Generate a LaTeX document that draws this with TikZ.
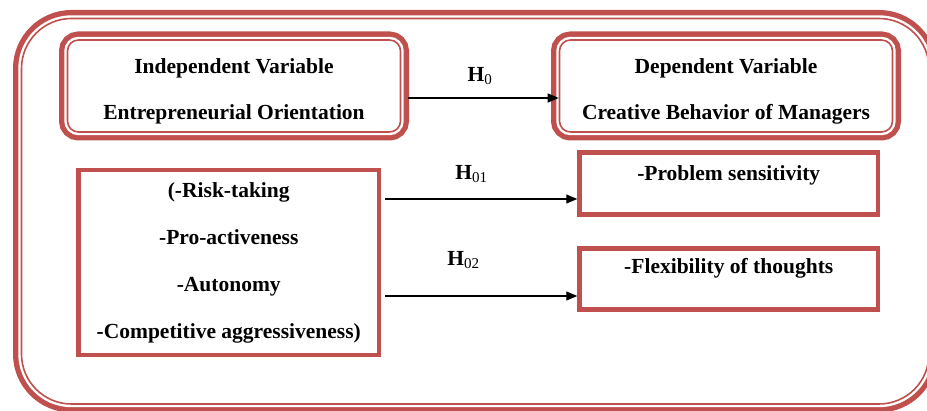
\documentclass[tikz,border=0pt]{standalone}
\usepackage{fontspec}
\setmainfont{Liberation Serif}
\usetikzlibrary{arrows.meta}
\definecolor{boxred}{RGB}{192,80,77}
\tikzset{
	twoline/.style={draw=boxred, fill=white, line width=1.6pt,
		preaction={draw=boxred, line width=17pt},
		preaction={draw=white, line width=6.4pt}},
	varbox/.style={twoline, rounded corners=11pt, inner sep=0pt, align=center,
		minimum width=333pt, minimum height=92pt},
	traitbox/.style={draw=boxred, line width=4.5pt, inner sep=0pt, align=center},
	hyp/.style={-{Triangle[length=11pt,width=9pt]}, line width=1.1pt}
}

\begin{document}
\begin{tikzpicture}[x=1pt, y=-1pt, font=\bfseries\fontsize{21.5}{46}\selectfont]
		\useasboundingbox (0,0) rectangle (927,411);
		% outer frame
		\draw [twoline, rounded corners=50pt] (21.5,18.5) rectangle (929,404);
		\node (ind)[varbox] at(234,86) {\rule{0pt}{25pt}Independent Variable\\Entrepreneurial Orientation};
		\node (dep)[varbox] at(726,86) {\rule{0pt}{25pt}Dependent Variable\\Creative Behavior of Managers};
		\node (traits)[traitbox, minimum width=300.5pt, minimum height=185pt,
			font=\bfseries\fontsize{21.5}{47}\selectfont] at(228.75,262.5)
			{(-Risk-taking\\-Pro-activeness\\-Autonomy\\-Competitive aggressiveness)};
		\node (prob)[traitbox, minimum width=298.5pt, text height=28.5pt, text depth=33.5pt] at(728.75,183.5) {-Problem sensitivity};
		\node (flex)[traitbox, minimum width=298.5pt, text height=25.5pt, text depth=35.5pt] at(728.75,279) {-Flexibility of thoughts};
		\draw [hyp, shorten <=7pt]([yshift=-12pt]ind.east)--([yshift=-12pt]dep.west) node[midway, above=9pt] {H\textsubscript{\mdseries 0}};
		\draw [hyp, shorten <=4pt]([yshift=63.5pt]traits.east)--([yshift=-15.5pt]prob.west) node[pos=.46, above=12pt] {H\textsubscript{\mdseries 01}};
		\draw [hyp, shorten <=4pt]([yshift=-33.5pt]traits.east)--([yshift=-17pt]flex.west) node[pos=.42, above=23pt] {H\textsubscript{\mdseries 02}};
	\end{tikzpicture}
\end{document}
